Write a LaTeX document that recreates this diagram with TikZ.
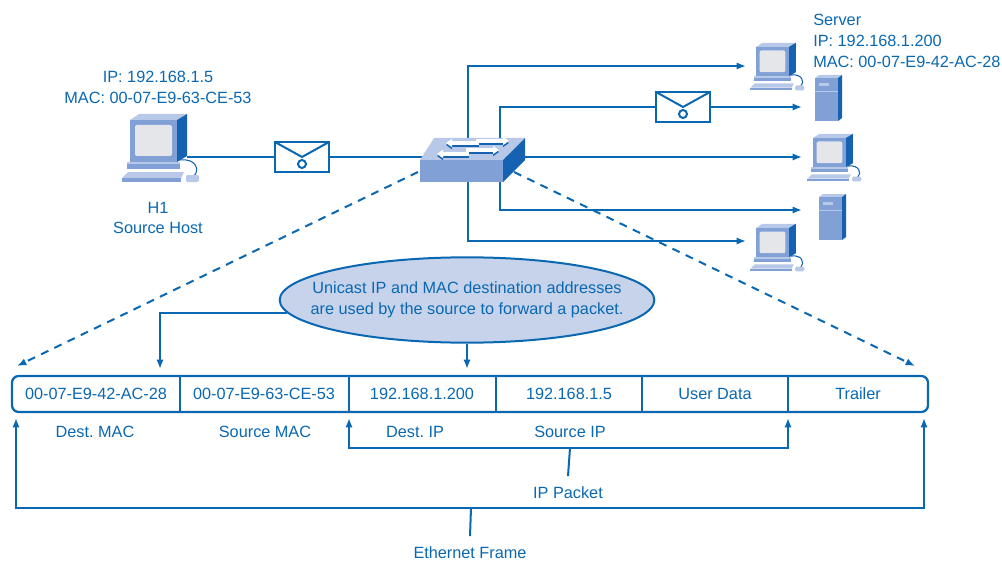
\documentclass[tikz,border=0pt]{standalone}
\usepackage{fontspec}
\setmainfont{Liberation Sans}
\usetikzlibrary{arrows.meta,shapes.geometric}

\definecolor{ciscoblue}{RGB}{10,104,178}
\definecolor{icontop}{RGB}{184,200,232}
\definecolor{iconfront}{RGB}{128,160,214}
\definecolor{icondark}{RGB}{22,98,178}
\definecolor{screengray}{RGB}{228,230,234}
\definecolor{notefill}{RGB}{198,211,234}

% desktop PC, centred on #1,#2, scaled by #3
\newcommand{\pcicon}[3]{%
  \begin{scope}[shift={(#1,#2)},scale=#3]
    \fill[icontop] (-30,-30) -- (-21,-36) -- (27,-36) -- (17,-30) -- cycle;
    \fill[icondark] (17,-30) -- (27,-36) -- (27,6) -- (17,12) -- cycle;
    \fill[iconfront] (-30,-30) rectangle (17,12);
    \fill[screengray,rounded corners=1.5pt] (-25,-25) rectangle (12,6);
    \fill[iconfront] (-33,12) rectangle (20,19);
    \fill[icontop] (-33,12) rectangle (20,14);
    \fill[icontop] (-32,22) -- (24,22) -- (21,28) -- (-38,28) -- cycle;
    \fill[iconfront] (-38,28) rectangle (21,32);
    \draw[icondark,line width=0.8pt] (20,10) .. controls (36,8) and (40,20) .. (34,26);
    \fill[icontop,rounded corners=1pt] (26,25) rectangle (39,32);
  \end{scope}}

% tower server, top left corner at #1,#2
\newcommand{\srvicon}[2]{%
  \begin{scope}[shift={(#1,#2)}]
    \fill[icontop] (0,3) -- (4,0) -- (27,0) -- (23,3) -- cycle;
    \fill[icondark] (23,3) -- (27,0) -- (27,43) -- (23,46) -- cycle;
    \fill[iconfront] (0,3) rectangle (23,46);
    \fill[icontop] (4,8) rectangle (14,11);
    \draw[icontop,line width=0.6pt] (0,16) -- (23,16);
  \end{scope}}

% envelope, centred on #1,#2
\newcommand{\mailicon}[2]{%
  \begin{scope}[shift={(#1,#2)}]
    \draw[ciscoblue,line width=1.5pt,fill=white] (-27,-15) rectangle (27,15);
    \draw[ciscoblue,line width=1.5pt] (-27,-15) -- (0,0) -- (27,-15);
    \draw[ciscoblue,line width=1.5pt,fill=white] (0,7) circle[radius=3pt];
  \end{scope}}

\begin{document}
\begin{tikzpicture}[x=0.75pt,y=-0.75pt,>={Latex[length=7pt,width=5.5pt]},
  link/.style={ciscoblue,line width=1.5pt},
  lbl/.style={text=ciscoblue,font=\fontsize{12.2}{15.5}\selectfont,inner sep=0pt},
  note/.style={ellipse,draw=ciscoblue,fill=notefill,line width=1.5pt,
    minimum width=281pt,minimum height=64pt,inner sep=0pt}]
\useasboundingbox (0,0) rectangle (1002,563);

% end points of the links
\coordinate (h1) at (187,157);
\coordinate (swa) at (468,160);
\coordinate (swb) at (500,160);
\coordinate (sw) at (472,157);
\coordinate (pc1) at (746,66);
\coordinate (srv1) at (802,107);
\coordinate (pc2) at (802,157);
\coordinate (srv2) at (802,210);
\coordinate (pc3) at (746,241);

\draw[link] (h1) -- (sw);
\draw[link,->] (sw) -- (pc2);
\draw[link,->] (swa) |- (pc1);
\draw[link,->] (swb) |- (srv1);
\draw[link,->] (swb) |- (srv2);
\draw[link,->] (swa) |- (pc3);

% zoom lines down to the frame
\coordinate (swdl) at (418,172);
\coordinate (swdr) at (514,172);
\coordinate (framel) at (17,366);
\coordinate (framer) at (915,366);
\draw[link,dash pattern=on 6pt off 5pt,->] (swdl) -- (framel);
\draw[link,dash pattern=on 6pt off 5pt,->] (swdr) -- (framer);

% switch
\fill[icontop] (420,160) -- (434,138) -- (525,138) -- (503,160) -- cycle;
\fill[iconfront] (420,160) rectangle (503,182);
\fill[icondark] (503,160) -- (525,138) -- (525,160) -- (503,182) -- cycle;
\draw[icondark,line width=2.4pt,-{Triangle[length=4.5pt,width=6pt]}] (479,145) -- (446,145);
\draw[icondark,line width=2.4pt,-{Triangle[length=4.5pt,width=6pt]}] (476,143) -- (509,143);
\draw[icondark,line width=2.4pt,-{Triangle[length=4.5pt,width=6pt]}] (469,156) -- (437,156);
\draw[icondark,line width=2.4pt,-{Triangle[length=4.5pt,width=6pt]}] (466,152) -- (499,152);
\draw[white,line width=2.4pt,-{Triangle[length=4.5pt,width=6pt]}] (479,143) -- (446,143);
\draw[white,line width=2.4pt,-{Triangle[length=4.5pt,width=6pt]}] (476,141) -- (509,141);
\draw[white,line width=2.4pt,-{Triangle[length=4.5pt,width=6pt]}] (469,154) -- (437,154);
\draw[white,line width=2.4pt,-{Triangle[length=4.5pt,width=6pt]}] (466,150) -- (499,150);

\mailicon{302}{157}
\mailicon{683}{107}

% hosts
\pcicon{160}{150}{1}
\pcicon{777}{68}{0.7}
\pcicon{834}{159}{0.7}
\pcicon{777}{249}{0.7}
\srvicon{815}{75}
\srvicon{819}{194}

\node[lbl,align=center] (h1addr) at (158,87.5) {IP: 192.168.1.5\\MAC: 00-07-E9-63-CE-53};
\node[lbl,align=center] (h1name) at (158,218) {H1\\Source Host};
\node[lbl,align=left,anchor=west] (srvaddr) at (813,41) {Server\\IP: 192.168.1.200\\MAC: 00-07-E9-42-AC-28};

% note
\node[note] (note) at (467,300) {};
\node[lbl,align=center] (notetext) at (note.center) {Unicast IP and MAC destination addresses\\are used by the source to forward a packet.};

% frame
\draw[link,line width=1.7pt,rounded corners=5pt] (12,376) rectangle (928,412);
\foreach \x in {180,349,496,642,788}
  \draw[link] (\x,376) -- (\x,412);
\node[lbl] (dmac) at (96,394) {00-07-E9-42-AC-28};
\node[lbl] (smac) at (264,394) {00-07-E9-63-CE-53};
\node[lbl] (dip) at (422,394) {192.168.1.200};
\node[lbl] (sip) at (569,394) {192.168.1.5};
\node[lbl] (data) at (715,394) {User Data};
\node[lbl] (trailer) at (858,394) {Trailer};

\node[lbl] (dmaclbl) at (95,432) {Dest.\ MAC};
\node[lbl] (smaclbl) at (265,432) {Source MAC};
\node[lbl] (diplbl) at (415,432) {Dest.\ IP};
\node[lbl] (siplbl) at (570,432) {Source IP};

\coordinate (dmacin) at (160,369);
\coordinate (dipin) at (467,369);
\draw[link,->] (note.184) -| (dmacin);
\draw[link,->] (note.south) -- (dipin);

% IP packet bracket
\coordinate (ipl) at (349,418);
\coordinate (ipr) at (788,418);
\coordinate (ipjoin) at (570,448);
\node[lbl] (ippkt) at (568,493) {IP Packet};
\draw[link,->] (ipjoin) -| (ipl);
\draw[link,->] (ipjoin) -| (ipr);
\draw[link] (ipjoin) -- ([yshift=8pt]ippkt.north);

% Ethernet frame bracket
\coordinate (ethl) at (16,418);
\coordinate (ethr) at (924,418);
\coordinate (ethjoin) at (471,508);
\node[lbl] (ethfrm) at (470,553) {Ethernet Frame};
\draw[link,->] (ethjoin) -| (ethl);
\draw[link,->] (ethjoin) -| (ethr);
\draw[link] (ethjoin) -- ([yshift=8pt]ethfrm.north);
\end{tikzpicture}
\end{document}
